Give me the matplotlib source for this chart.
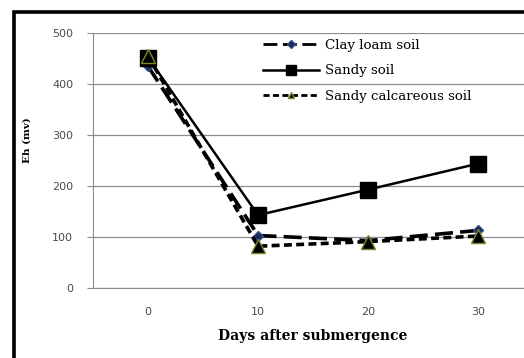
import numpy as np
import matplotlib
matplotlib.use('Agg')
import matplotlib.pyplot as plt
from matplotlib.patches import Rectangle

days = ['0', '10', '20', '30']
clay_loam = [435, 103, 93, 113]
sandy = [452, 143, 193, 244]
sandy_calc = [455, 82, 91, 102]

plt.rcParams['font.family'] = ['DejaVu Serif', 'Liberation Serif']

fig = plt.figure(figsize=(5.24, 3.58), dpi=100)
ax = fig.add_axes([0.1775, 0.1955, 0.84, 0.712])

x = np.arange(len(days))
ax.plot(x, clay_loam, color='black', linestyle=(0, (5, 2)), linewidth=2.6,
        marker='D', markersize=5.5, markerfacecolor='#1c2a50', markeredgecolor='#2f4f8f',
        label='Clay loam soil', zorder=3)
ax.plot(x, sandy, color='black', linestyle='-', linewidth=1.8,
        marker='s', markersize=12, markerfacecolor='black', markeredgecolor='black',
        label='Sandy soil', zorder=4)
ax.plot(x, sandy_calc, color='black', linestyle=(0, (2.2, 1.2)), linewidth=2.6,
        marker='^', markersize=10, markerfacecolor='black', markeredgecolor='#7a8a2a',
        markeredgewidth=1.0, label='Sandy calcareous soil', zorder=5)

ax.set_xlim(-0.5, 3.5)
ax.set_ylim(0, 500)
ax.set_xticks(x)
ax.set_xticklabels(days)
ax.set_yticks([0, 100, 200, 300, 400, 500])
ax.yaxis.grid(True, color='#8c8c8c', linewidth=0.9)
ax.set_axisbelow(True)
for s in ['top', 'right']:
    ax.spines[s].set_visible(False)
ax.spines['left'].set_color('#8c8c8c')
ax.spines['bottom'].set_color('#8c8c8c')
for lab in ax.get_xticklabels() + ax.get_yticklabels():
    lab.set_family('DejaVu Sans')
ax.tick_params(axis='y', length=4.3, color='#8c8c8c', labelsize=8, pad=10, labelcolor='#4a4a4a')
ax.tick_params(axis='x', length=0, labelsize=8, pad=14, labelcolor='#4a4a4a')

ax.set_ylabel('Eh (mv)', fontsize=7.5, fontweight='bold')
ax.set_xlabel('Days after submergence', fontsize=10, fontweight='bold', labelpad=8)
ax.yaxis.set_label_coords(-0.14, 0.58)

leg = ax.legend(loc='upper left', bbox_to_anchor=(0.36, 1.025), frameon=False,
                fontsize=9.6, handlelength=4.2, labelspacing=0.95, handletextpad=0.4)
for h, ms in zip(leg.legend_handles, [4, 7, 4.5]):
    h.set_markersize(ms)
    h.set_linewidth(min(h.get_linewidth(), 2.0))

fig.patches.append(Rectangle((13.5 / 524, -0.2), 1.2, 0.2 + (1 - 12 / 358),
                             transform=fig.transFigure, fill=False,
                             edgecolor='black', linewidth=2.6))

fig.savefig('out.png', dpi=100)
